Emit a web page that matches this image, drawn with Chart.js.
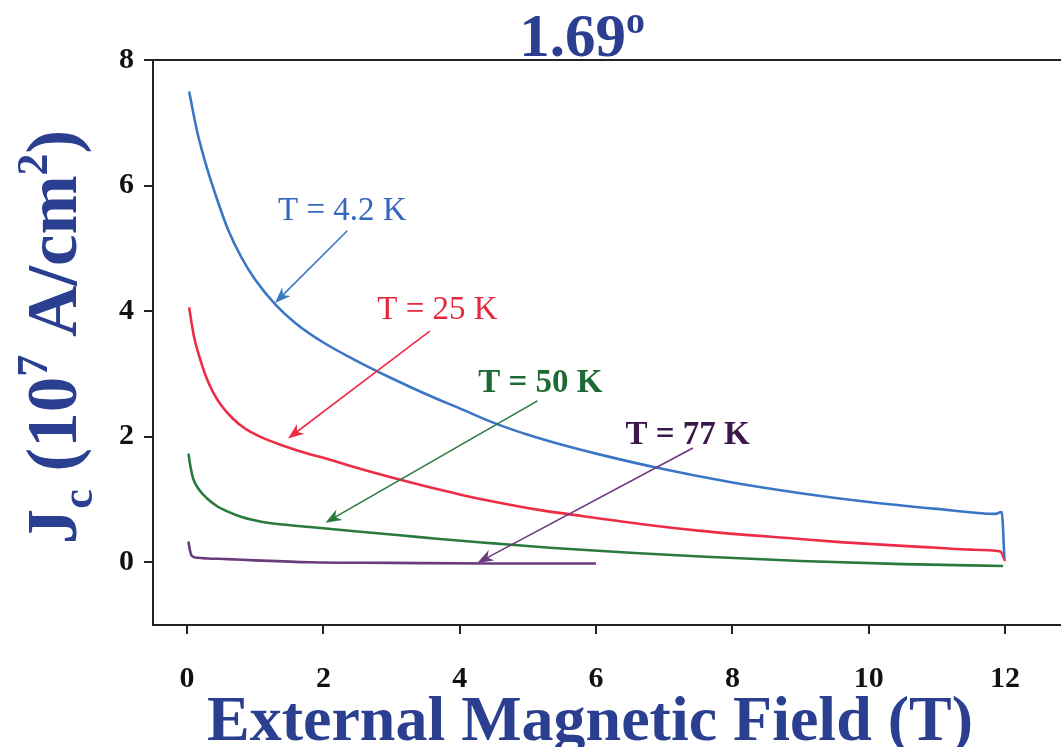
<!DOCTYPE html>
<html lang="en">
<head>
    <meta charset="UTF-8">
    <title>Jc vs External Magnetic Field, 1.69°</title>
    <style>
        body { margin: 0; background: #fff; }
        #chart { display: block; }
    </style>
    <script src="https://cdn.jsdelivr.net/npm/chart.js"></script>
</head>
<body>
    <canvas id="chart" width="1061" height="747"></canvas>

    <script>
        // values (field in T, Jc in 10^7 A/cm^2)
        const xTicks = [0, 2, 4, 6, 8, 10, 12];
        const yTicks = [0, 2, 4, 6, 8];

        const field42 = [0.03, 0.15, 0.3, 0.45, 0.6, 0.8, 1.0, 1.3, 1.6, 2.0, 2.5, 3.0, 3.5, 4.0, 4.5, 5.0, 5.5, 6.0, 7.0, 8.0, 9.0, 10.0, 11.0, 11.85, 11.95, 11.99];
        const jc42 = [7.5, 6.85, 6.25, 5.75, 5.3, 4.85, 4.5, 4.1, 3.8, 3.5, 3.2, 2.93, 2.68, 2.45, 2.22, 2.03, 1.87, 1.73, 1.48, 1.27, 1.1, 0.96, 0.85, 0.77, 0.8, 0.06];

        const field25 = [0.03, 0.1, 0.19, 0.28, 0.38, 0.5, 0.67, 0.85, 1.07, 1.4, 1.8, 2.05, 2.5, 3.0, 3.5, 4.0, 4.34, 5.18, 5.57, 6.65, 7.53, 8.99, 9.58, 10.5, 11.0, 11.5, 11.93, 12.0];
        const jc25 = [4.06, 3.6, 3.24, 2.95, 2.71, 2.5, 2.29, 2.13, 2.0, 1.86, 1.72, 1.65, 1.5, 1.35, 1.21, 1.08, 1.0, 0.83, 0.77, 0.61, 0.5, 0.37, 0.32, 0.26, 0.23, 0.2, 0.17, 0.02];

        const field50 = [0.02, 0.05, 0.09, 0.18, 0.29, 0.43, 0.59, 0.8, 1.07, 1.4, 1.8, 2.5, 3.12, 3.71, 4.5, 5.32, 6.5, 7.53, 9.0, 10.5, 11.97];
        const jc50 = [1.73, 1.52, 1.33, 1.15, 1.02, 0.9, 0.81, 0.72, 0.65, 0.6, 0.56, 0.49, 0.43, 0.37, 0.3, 0.23, 0.15, 0.09, 0.02, -0.03, -0.06];

        const field77 = [0.02, 0.04, 0.07, 0.15, 0.3, 0.59, 1.0, 1.8, 3.0, 4.5, 6.0];
        const jc77 = [0.33, 0.2, 0.1, 0.07, 0.06, 0.05, 0.03, 0.0, -0.01, -0.02, -0.02];

        const seriesLabels = ['T = 4.2 K', 'T = 25 K', 'T = 50 K', 'T = 77 K'];
        const lineColors = ['#3b76c6', '#ee2c45', '#2a7a3e', '#6a3a7c'];
        const textColors = ['#3467be', '#e6283f', '#1f6a34', '#3b1849'];

        // label anchor (left, baseline) and arrow start/end, in data units
        const labelAt = [[1.335, 5.45], [2.79, 3.88], [4.27, 2.71], [6.43, 1.89]];
        const arrowFrom = [[2.35, 5.28], [3.56, 3.68], [5.14, 2.57], [7.42, 1.82]];
        const arrowTo = [[1.29, 4.13], [1.48, 1.97], [2.03, 0.63], [4.26, -0.01]];

        const titleBlue = '#2b3f90';
        const serif = '"Liberation Serif", "DejaVu Serif", serif';

        function pts(xs, ys) {
            return xs.map((x, i) => ({ x: x, y: ys[i] }));
        }

        const allX = [field42, field25, field50, field77];
        const allY = [jc42, jc25, jc50, jc77];

        function drawArrow(ctx, x1, y1, x2, y2, color) {
            const a = Math.atan2(y2 - y1, x2 - x1);
            const len = 16, half = 6;
            ctx.strokeStyle = color;
            ctx.fillStyle = color;
            ctx.lineWidth = 1.6;
            ctx.beginPath();
            ctx.moveTo(x1, y1);
            ctx.lineTo(x2 - Math.cos(a) * len * 0.6, y2 - Math.sin(a) * len * 0.6);
            ctx.stroke();
            ctx.beginPath();
            ctx.moveTo(x2, y2);
            ctx.lineTo(x2 - Math.cos(a) * len + Math.sin(a) * half, y2 - Math.sin(a) * len - Math.cos(a) * half);
            ctx.lineTo(x2 - Math.cos(a) * len * 0.7, y2 - Math.sin(a) * len * 0.7);
            ctx.lineTo(x2 - Math.cos(a) * len - Math.sin(a) * half, y2 - Math.sin(a) * len + Math.cos(a) * half);
            ctx.closePath();
            ctx.fill();
        }

        // draws a run of [text, font, baselineShift] pieces starting at x
        function drawRuns(ctx, runs, x, y) {
            runs.forEach(r => {
                ctx.font = r[1];
                ctx.fillText(r[0], x, y + r[2]);
                x += ctx.measureText(r[0]).width;
            });
        }
        function runsWidth(ctx, runs) {
            let w = 0;
            runs.forEach(r => { ctx.font = r[1]; w += ctx.measureText(r[0]).width; });
            return w;
        }

        const decorations = {
            id: 'decorations',
            afterDraw(chart) {
                const ctx = chart.ctx;
                const area = chart.chartArea;
                const xs = chart.scales.x, ys = chart.scales.y;
                ctx.save();

                // top frame line
                ctx.strokeStyle = '#222';
                ctx.lineWidth = 2;
                ctx.beginPath();
                ctx.moveTo(area.left - 1, area.top);
                ctx.lineTo(area.right, area.top);
                ctx.stroke();

                // curve labels and arrows
                for (let i = 0; i < seriesLabels.length; i++) {
                    drawArrow(ctx,
                        xs.getPixelForValue(arrowFrom[i][0]), ys.getPixelForValue(arrowFrom[i][1]),
                        xs.getPixelForValue(arrowTo[i][0]), ys.getPixelForValue(arrowTo[i][1]),
                        lineColors[i]);
                    ctx.fillStyle = textColors[i];
                    ctx.font = (i >= 2 ? 'bold ' : '') + '33px ' + serif;
                    ctx.textAlign = 'left';
                    ctx.textBaseline = 'alphabetic';
                    ctx.fillText(seriesLabels[i], xs.getPixelForValue(labelAt[i][0]), ys.getPixelForValue(labelAt[i][1]));
                }

                ctx.fillStyle = titleBlue;
                ctx.textAlign = 'left';
                ctx.textBaseline = 'alphabetic';

                // title 1.69 with raised o
                const big = 'bold 61px ' + serif, small = 'bold 38px ' + serif;
                const tRuns = [['1.69', big, 0], ['o', small, -23]];
                drawRuns(ctx, tRuns, 582 - runsWidth(ctx, tRuns) / 2, 56);

                // x axis title
                ctx.font = 'bold 64px ' + serif;
                ctx.textAlign = 'center';
                ctx.fillText('External Magnetic Field (T)', 590, 740);
                ctx.textAlign = 'left';

                // y axis title: Jc (10^7 A/cm^2), rotated
                const yb = 'bold 71px ' + serif, ys2 = 'bold 44px ' + serif;
                const yRuns = [['J', yb, 0], ['c', ys2, 16], [' (10', yb, 0], ['7', ys2, -29], [' A/cm', yb, 0], ['2', ys2, -29], [')', yb, 0]];
                ctx.translate(76, 337);
                ctx.rotate(-Math.PI / 2);
                drawRuns(ctx, yRuns, -runsWidth(ctx, yRuns) / 2, 0);

                ctx.restore();
            }
        };

        const datasets = seriesLabels.map((lab, i) => ({
            label: lab,
            data: pts(allX[i], allY[i]),
            borderColor: lineColors[i],
            borderWidth: 2.6,
            pointRadius: 0,
            fill: false,
            cubicInterpolationMode: 'monotone'
        }));

        const tickFont = { family: serif, size: 30, weight: 'bold' };

        new Chart(document.getElementById('chart').getContext('2d'), {
            type: 'line',
            data: { datasets: datasets },
            options: {
                responsive: false,
                animation: false,
                devicePixelRatio: 1,
                layout: { padding: { left: 0, top: 60, right: 0, bottom: 0 } },
                plugins: {
                    legend: { display: false },
                    tooltip: { enabled: false }
                },
                scales: {
                    x: {
                        type: 'linear',
                        min: -0.5,
                        max: 12.82,
                        afterBuildTicks: s => { s.ticks = xTicks.map(v => ({ value: v })); },
                        afterFit: s => { s.height = 122; },
                        grid: { drawOnChartArea: false, drawTicks: true, tickLength: 9, color: '#222', lineWidth: 2 },
                        border: { display: true, color: '#222', width: 2 },
                        ticks: { font: tickFont, color: '#111', padding: 27, maxRotation: 0 }
                    },
                    y: {
                        min: -1,
                        max: 8,
                        afterBuildTicks: s => { s.ticks = yTicks.map(v => ({ value: v })); },
                        afterFit: s => { s.width = 153; },
                        grid: { drawOnChartArea: false, drawTicks: true, tickLength: 9, color: '#222', lineWidth: 2 },
                        border: { display: true, color: '#222', width: 2 },
                        ticks: { font: tickFont, color: '#111', padding: 10 }
                    }
                }
            },
            plugins: [decorations]
        });
    </script>
</body>
</html>
